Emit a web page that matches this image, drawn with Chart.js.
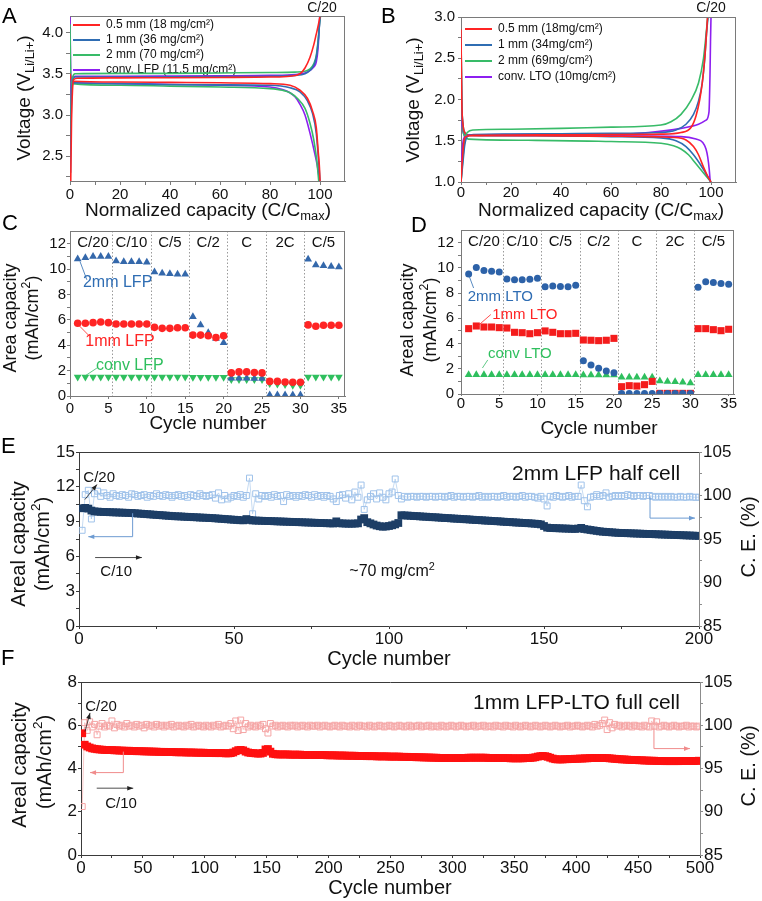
<!DOCTYPE html>
<html>
<head>
<meta charset="utf-8">
<script src="https://cdn.jsdelivr.net/npm/chart.js@4.4.1/dist/chart.umd.min.js"></script>
<style>
  body { margin: 0; background: #fff; width: 762px; height: 901px; position: relative; overflow: hidden; font-family: 'Liberation Sans', Arial, sans-serif; }
  canvas { position: absolute; }
  .letter { position: absolute; font-size: 22px; line-height: 22px; color: #000; }
</style>
</head>
<body>
<canvas id="cE" style="left:0;top:440px" width="762" height="230"></canvas>
<canvas id="cF" style="left:0;top:670px" width="762" height="231"></canvas>
<canvas id="cC" style="left:0;top:225px" width="381" height="225"></canvas>
<canvas id="cD" style="left:381px;top:225px" width="381" height="225"></canvas>
<canvas id="cA" style="left:0;top:0" width="381" height="230"></canvas>
<canvas id="cB" style="left:381px;top:0" width="381" height="230"></canvas>
<div class="letter" style="left:2px;top:5px">A</div>
<div class="letter" style="left:381px;top:5px">B</div>
<div class="letter" style="left:2px;top:212px">C</div>
<div class="letter" style="left:411px;top:214px">D</div>
<div class="letter" style="left:1px;top:435px">E</div>
<div class="letter" style="left:1px;top:647px">F</div>
<script>
// ---------- Panel A: LFP voltage profiles (normalized capacity %, voltage V) ----------
const lfp05ChgX = [0.3, 0.6, 1.0, 1.5, 3, 20, 40, 60, 80, 88, 92, 94, 96, 97.5, 98.5, 99.4, 100];
const lfp05ChgV = [2.2, 2.9, 3.3, 3.43, 3.445, 3.45, 3.452, 3.455, 3.46, 3.47, 3.5, 3.57, 3.7, 3.85, 3.98, 4.1, 4.2];
const lfp1ChgX = [0.2, 0.5, 1.0, 2, 20, 40, 60, 80, 90, 94, 96, 97.5, 98.5, 99.3, 99.8, 100.1];
const lfp1ChgV = [2.3, 3.0, 3.38, 3.46, 3.46, 3.462, 3.465, 3.47, 3.48, 3.5, 3.54, 3.6, 3.7, 3.9, 4.1, 4.2];
const lfp2ChgX = [0, 0.4, 1.0, 2, 20, 40, 60, 80, 90, 94, 96, 97.5, 98.5, 99.3, 99.8, 100.2];
const lfp2ChgV = [2.3, 3.1, 3.45, 3.5, 3.505, 3.505, 3.51, 3.515, 3.52, 3.53, 3.56, 3.62, 3.72, 3.92, 4.1, 4.2];
const lfpCvChgX = [0, 0.3, 0.8, 2, 20, 40, 60, 80, 90, 94, 96, 97.5, 98.5, 99.2, 99.6, 99.9];
const lfpCvChgV = [2.4, 3.2, 3.44, 3.47, 3.47, 3.472, 3.475, 3.48, 3.49, 3.51, 3.54, 3.58, 3.64, 3.8, 4.0, 4.2];
const lfp05DisX = [0, 0.5, 1, 20, 40, 60, 80, 88, 92, 95, 97, 98.5, 99.3, 99.8, 100];
const lfp05DisV = [3.5, 3.42, 3.41, 3.40, 3.395, 3.39, 3.38, 3.36, 3.3, 3.2, 3.05, 2.85, 2.55, 2.35, 2.2];
const lfp1DisX = [0, 0.5, 1, 20, 40, 60, 80, 88, 92, 95, 97, 98.5, 99.5, 100];
const lfp1DisV = [3.48, 3.41, 3.39, 3.38, 3.37, 3.365, 3.36, 3.33, 3.28, 3.17, 3.02, 2.78, 2.42, 2.2];
const lfp2DisX = [0, 0.3, 1, 20, 40, 60, 80, 85, 88, 91, 94, 96, 97.5, 98.7, 99.5];
const lfp2DisV = [4.1, 3.45, 3.38, 3.36, 3.35, 3.34, 3.32, 3.3, 3.27, 3.2, 3.08, 2.9, 2.7, 2.45, 2.2];
const lfpCvDisX = [0, 0.3, 1, 2, 20, 40, 60, 80, 85, 88, 90, 92, 94, 96, 98, 99.3, 99.8];
const lfpCvDisV = [4.2, 3.5, 3.42, 3.39, 3.38, 3.37, 3.36, 3.34, 3.31, 3.27, 3.22, 3.13, 3.0, 2.78, 2.52, 2.32, 2.2];

// ---------- Panel B: LTO voltage profiles ----------
const lto05UpX = [0, 0.6, 1.2, 2, 5, 20, 40, 60, 80, 88, 92, 94, 95.5, 96.5, 97.5, 98.2, 98.6];
const lto05UpV = [1.0, 1.3, 1.5, 1.55, 1.565, 1.57, 1.572, 1.575, 1.58, 1.6, 1.66, 1.8, 2.0, 2.2, 2.5, 2.8, 3.0];
const lto1UpX = [0, 0.8, 1.5, 2.5, 5, 20, 40, 60, 80, 86, 90, 93, 95, 96.5, 97.5, 98.2, 98.8];
const lto1UpV = [1.0, 1.25, 1.45, 1.55, 1.575, 1.58, 1.585, 1.59, 1.6, 1.63, 1.7, 1.82, 1.98, 2.2, 2.5, 2.8, 3.0];
const lto2UpX = [0, 0.8, 1.5, 2.5, 5, 20, 40, 60, 80, 84, 88, 92, 95, 97, 98, 98.7];
const lto2UpV = [1.0, 1.3, 1.5, 1.6, 1.63, 1.64, 1.65, 1.665, 1.69, 1.73, 1.82, 1.99, 2.2, 2.5, 2.78, 3.0];
const ltoCvUpX = [0, 0.4, 1, 2, 5, 20, 40, 60, 75, 88, 95, 98, 99.2, 99.6, 99.8, 100];
const ltoCvUpV = [1.0, 1.35, 1.52, 1.56, 1.57, 1.575, 1.578, 1.58, 1.6, 1.65, 1.7, 1.75, 1.85, 2.3, 2.7, 3.0];
const lto05DnX = [0, 0.3, 0.8, 1.5, 3, 30, 60, 85, 90, 93, 95, 97, 98.5, 100];
const lto05DnV = [2.85, 2.0, 1.7, 1.6, 1.565, 1.56, 1.555, 1.54, 1.51, 1.43, 1.33, 1.18, 1.08, 1.0];
const lto1DnX = [0, 0.3, 0.8, 1.5, 3, 30, 60, 80, 86, 90, 93, 96, 98, 100];
const lto1DnV = [2.8, 2.0, 1.7, 1.6, 1.565, 1.56, 1.55, 1.535, 1.5, 1.43, 1.33, 1.2, 1.1, 1.0];
const lto2DnX = [0, 0.3, 0.8, 1.5, 3, 30, 60, 80, 85, 88, 91, 94, 97, 100];
const lto2DnV = [2.75, 2.0, 1.65, 1.55, 1.52, 1.505, 1.49, 1.47, 1.44, 1.4, 1.33, 1.22, 1.11, 1.0];
const ltoCvDnX = [0, 0.2, 0.6, 1.2, 3, 30, 60, 88, 94, 96.7, 98, 98.7, 99.3, 99.7];
const ltoCvDnV = [2.6, 1.9, 1.65, 1.58, 1.57, 1.565, 1.56, 1.55, 1.52, 1.48, 1.4, 1.3, 1.15, 1.0];

// ---------- Panels C/D: rate capability, cycles 1-35 ----------
const rateNames = ['C/20', 'C/10', 'C/5', 'C/2', 'C', '2C', 'C/5'];
const rateCenters = [3, 8, 13, 18, 23, 28, 33];
const rateBreaks = [5.5, 10.5, 15.5, 20.5, 25.5, 30.5];
const lfp2mmCap = [10.8, 10.9, 11.0, 11.0, 11.0, 10.63, 10.58, 10.58, 10.58, 10.53, 9.76, 9.68, 9.63, 9.6, 9.6,
  6.25, 5.59, 4.99, 4.54, 4.2, 1.4, 1.4, 1.4, 1.38, 1.38, 0.08, 0.08, 0.08, 0.08, 0.08, 10.77, 10.32, 10.26, 10.2, 10.16];
const lfp1mmCap = [5.73, 5.73, 5.78, 5.83, 5.78, 5.67, 5.67, 5.67, 5.67, 5.67, 5.41, 5.33, 5.33, 5.38, 5.38,
  4.8, 4.8, 4.75, 4.6, 4.75, 1.82, 1.9, 1.9, 1.85, 1.82, 1.15, 1.15, 1.1, 1.08, 1.08, 5.6, 5.5, 5.57, 5.57, 5.57];
const lfpConvCap = [1.5, 1.5, 1.5, 1.5, 1.5, 1.5, 1.5, 1.5, 1.5, 1.5, 1.5, 1.5, 1.5, 1.5, 1.5,
  1.48, 1.48, 1.48, 1.48, 1.48, 1.3, 1.3, 1.3, 1.3, 1.3, 0.98, 0.95, 0.9, 0.85, 0.85, 1.5, 1.5, 1.5, 1.5, 1.5];
const lto2mmCap = [9.52, 10.02, 9.78, 9.73, 9.67, 9.12, 9.05, 9.05, 9.1, 9.17, 8.51, 8.56, 8.53, 8.51, 8.62,
  2.64, 2.3, 2.04, 1.82, 1.69, 0.03, 0.03, 0.03, 0.03, 0.03, 0.03, 0.03, 0.03, 0.03, 0.03, 8.46, 8.9, 8.83, 8.75, 8.7];
const lto1mmCap = [5.18, 5.39, 5.31, 5.31, 5.26, 5.23, 4.89, 4.86, 4.78, 4.86, 5.0, 4.89, 4.78, 4.78, 4.81,
  4.28, 4.26, 4.23, 4.26, 4.41, 0.58, 0.66, 0.63, 0.74, 1.0, 0.05, 0.05, 0.05, 0.05, 0.05, 5.18, 5.18, 5.1, 5.02, 5.13];
const ltoConvCap = [1.53, 1.53, 1.53, 1.53, 1.53, 1.53, 1.53, 1.53, 1.53, 1.53, 1.53, 1.53, 1.53, 1.53, 1.53,
  1.5, 1.5, 1.5, 1.5, 1.5, 1.32, 1.32, 1.32, 1.32, 1.32, 1.03, 1.0, 0.98, 0.93, 0.87, 1.53, 1.53, 1.53, 1.53, 1.53];

// ---------- Panel E: 2mm LFP half cell, cycles 1-200 ----------
const eCap = [
  10.15, 10.18, 10.12, 9.95, 9.88, 9.86, 9.84, 9.83, 9.82, 9.81,
  9.80, 9.79, 9.78, 9.77, 9.76, 9.75, 9.74, 9.72, 9.70, 9.68,
  9.66, 9.64, 9.62, 9.60, 9.58, 9.56, 9.54, 9.52, 9.50, 9.48,
  9.46, 9.45, 9.44, 9.42, 9.41, 9.40, 9.38, 9.37, 9.35, 9.34,
  9.33, 9.31, 9.30, 9.28, 9.26, 9.24, 9.22, 9.20, 9.18, 9.16,
  9.14, 9.12, 9.11, 9.22, 9.14, 9.10, 9.09, 9.08, 9.07, 9.06,
  9.05, 9.04, 9.03, 9.02, 9.01, 9.00, 8.99, 8.98, 8.97, 8.96,
  8.95, 8.94, 8.93, 8.92, 8.91, 8.90, 8.89, 8.88, 8.87, 8.86,
  8.85, 8.84, 9.02, 8.86, 8.84, 8.83, 8.82, 8.82, 8.83, 8.85,
  9.18, 9.30, 8.95, 8.85, 8.75, 8.66, 8.60, 8.56, 8.58, 8.62,
  8.68, 8.76, 8.88, 9.55, 9.53, 9.52, 9.50, 9.48, 9.47, 9.45,
  9.43, 9.42, 9.40, 9.38, 9.37, 9.35, 9.33, 9.31, 9.30, 9.28,
  9.26, 9.25, 9.23, 9.21, 9.20, 9.18, 9.16, 9.14, 9.13, 9.11,
  9.09, 9.08, 9.06, 9.04, 9.03, 9.01, 8.99, 8.97, 8.96, 8.94,
  8.92, 8.91, 8.89, 8.87, 8.86, 8.84, 8.82, 8.80, 8.76, 8.62,
  8.48, 8.45, 8.44, 8.43, 8.42, 8.41, 8.40, 8.39, 8.38, 8.37,
  8.40, 8.46, 8.36, 8.32, 8.28, 8.24, 8.20, 8.16, 8.13, 8.11,
  8.09, 8.07, 8.05, 8.03, 8.02, 8.01, 8.00, 7.99, 7.98, 7.97,
  7.96, 7.95, 7.94, 7.93, 7.92, 7.91, 7.90, 7.89, 7.88, 7.87,
  7.86, 7.85, 7.84, 7.83, 7.82, 7.81, 7.80, 7.79, 7.78, 7.77
];
const eCE = [
  96.0, 100.1, 100.6, 97.3, 100.2, 100.5, 99.9, 100.3, 100.0, 99.8,
  100.2, 100.0, 99.9, 100.1, 100.0, 99.8, 100.2, 100.1, 99.9, 100.0,
  100.1, 99.8, 100.0, 99.9, 100.2, 100.0, 99.9, 100.1, 100.0, 99.8,
  100.0, 100.1, 99.9, 100.0, 99.8, 100.1, 100.0, 99.9, 100.2, 100.0,
  99.9, 100.0, 100.1, 99.7, 100.3, 99.5, 100.0, 99.6, 99.8, 100.0,
  99.9, 100.1, 99.8, 100.0, 102.0, 97.9, 100.2, 99.6, 100.0, 99.9,
  100.0, 99.8, 100.1, 99.9, 100.0, 99.3, 100.1, 99.9, 100.0, 99.8,
  100.0, 99.9, 100.1, 100.0, 99.8, 100.1, 99.9, 100.0, 99.8, 100.0,
  99.9, 99.6, 99.3, 100.0, 100.1, 99.7, 100.2, 99.5, 100.4, 99.8,
  101.2, 98.4, 99.5, 99.9, 100.2, 99.6, 100.3, 99.8, 99.5, 100.2,
  100.4, 101.9, 100.0, 99.6, 99.9, 99.8, 99.9, 99.9, 99.8, 99.9,
  99.9, 99.8, 99.9, 99.9, 99.8, 99.9, 99.9, 99.8, 99.9, 100.0,
  99.8, 99.9, 99.9, 99.8, 99.9, 99.9, 99.8, 99.9, 100.0, 99.8,
  99.9, 99.8, 99.9, 99.9, 99.8, 99.9, 100.0, 99.8, 99.9, 99.9,
  99.8, 99.9, 100.0, 99.8, 99.9, 99.9, 99.8, 99.7, 99.9, 99.6,
  98.8, 99.9, 99.8, 100.0, 99.9, 99.8, 99.9, 100.0, 99.8, 99.9,
  99.9, 101.2, 99.4, 98.7, 99.8, 99.9, 100.1, 99.9, 100.0, 100.3,
  99.8, 99.9, 100.0, 99.9, 100.0, 99.9, 100.1, 100.0, 99.9, 100.0,
  100.0, 99.9, 100.0, 100.0, 99.9, 99.8, 99.9, 99.8, 99.9, 99.8,
  99.9, 99.8, 99.8, 99.9, 99.8, 99.8, 99.9, 99.8, 99.8, 99.8
];

// ---------- Panel F: 1mm LFP-LTO full cell, every 2nd cycle from 1 to 499 ----------
const F_CYCLE_STEP = 2;
const fCap = [
  5.63, 5.10, 5.02, 4.97, 4.93, 4.91, 4.89, 4.88, 4.87, 4.86,
  4.86, 4.85, 4.85, 4.84, 4.84, 4.83, 4.83, 4.82, 4.82, 4.82,
  4.81, 4.81, 4.80, 4.80, 4.80, 4.79, 4.79, 4.79, 4.78, 4.78,
  4.78, 4.77, 4.77, 4.77, 4.76, 4.76, 4.76, 4.76, 4.75, 4.75,
  4.75, 4.75, 4.74, 4.74, 4.74, 4.74, 4.73, 4.73, 4.73, 4.73,
  4.72, 4.72, 4.72, 4.72, 4.71, 4.71, 4.71, 4.71, 4.70, 4.70,
  4.71, 4.74, 4.80, 4.85, 4.86, 4.84, 4.78, 4.74, 4.72, 4.71,
  4.70, 4.69, 4.69, 4.72, 4.88, 4.90, 4.78, 4.68, 4.66, 4.65,
  4.65, 4.65, 4.65, 4.65, 4.64, 4.64, 4.64, 4.64, 4.64, 4.63,
  4.63, 4.63, 4.63, 4.63, 4.62, 4.62, 4.62, 4.62, 4.62, 4.61,
  4.61, 4.61, 4.61, 4.60, 4.60, 4.60, 4.60, 4.59, 4.59, 4.59,
  4.59, 4.58, 4.58, 4.58, 4.58, 4.57, 4.57, 4.57, 4.57, 4.56,
  4.56, 4.56, 4.56, 4.56, 4.55, 4.55, 4.55, 4.55, 4.55, 4.54,
  4.54, 4.54, 4.53, 4.53, 4.53, 4.52, 4.52, 4.52, 4.51, 4.51,
  4.51, 4.50, 4.50, 4.50, 4.49, 4.49, 4.49, 4.49, 4.48, 4.48,
  4.48, 4.48, 4.49, 4.49, 4.49, 4.49, 4.50, 4.50, 4.50, 4.50,
  4.50, 4.50, 4.50, 4.50, 4.49, 4.49, 4.49, 4.49, 4.48, 4.48,
  4.48, 4.48, 4.48, 4.47, 4.47, 4.47, 4.47, 4.47, 4.47, 4.48,
  4.48, 4.49, 4.50, 4.52, 4.55, 4.57, 4.58, 4.57, 4.54, 4.50,
  4.46, 4.43, 4.42, 4.42, 4.42, 4.43, 4.43, 4.44, 4.44, 4.45,
  4.45, 4.46, 4.46, 4.47, 4.47, 4.48, 4.48, 4.49, 4.49, 4.49,
  4.49, 4.48, 4.48, 4.47, 4.46, 4.45, 4.44, 4.43, 4.42, 4.42,
  4.41, 4.40, 4.40, 4.39, 4.39, 4.38, 4.38, 4.37, 4.37, 4.36,
  4.36, 4.36, 4.35, 4.35, 4.35, 4.34, 4.34, 4.34, 4.34, 4.34,
  4.34, 4.34, 4.35, 4.35, 4.35, 4.35, 4.35, 4.35, 4.35, 4.36
];
const fCE = [
  90.6, 100.3, 99.4, 100.4, 99.8, 100.1, 98.9, 99.9, 100.2, 99.8,
  100.0, 99.9, 100.5, 99.7, 100.1, 99.9, 100.0, 99.8, 100.2, 99.9,
  100.0, 99.8, 100.1, 99.9, 100.0, 99.7, 100.1, 99.9, 100.0, 99.8,
  100.1, 99.9, 100.0, 99.8, 100.0, 99.9, 100.1, 99.8, 99.9, 100.0,
  99.9, 99.8, 100.0, 99.9, 100.1, 99.8, 99.9, 100.0, 99.9, 99.8,
  100.0, 99.9, 99.8, 100.0, 99.9, 100.1, 99.8, 99.9, 100.0, 99.9,
  100.2, 99.6, 100.5, 99.4, 100.6, 99.5, 100.2, 99.8, 100.0, 99.9,
  99.8, 100.0, 99.9, 100.1, 99.6, 99.1, 100.2, 99.9, 100.0, 99.8,
  99.9, 100.0, 99.9, 99.8, 100.0, 99.9, 100.0, 99.8, 99.9, 100.0,
  99.9, 99.8, 100.0, 99.9, 99.9, 100.0, 99.8, 99.9, 100.0, 99.9,
  99.8, 99.9, 100.0, 99.9, 99.8, 100.0, 99.9, 99.9, 99.8, 100.0,
  99.9, 99.8, 100.0, 99.9, 99.9, 99.8, 100.0, 99.9, 99.8, 99.9,
  100.0, 99.9, 99.8, 99.9, 100.0, 99.9, 99.8, 99.9, 100.0, 99.9,
  99.8, 99.9, 100.0, 99.8, 99.9, 99.9, 100.0, 99.8, 99.9, 99.9,
  100.0, 99.8, 99.9, 99.9, 99.8, 100.0, 99.9, 99.8, 99.9, 100.0,
  99.9, 99.8, 99.9, 100.0, 99.9, 99.8, 99.9, 99.9, 100.0, 99.8,
  99.9, 99.9, 100.0, 99.8, 99.9, 99.9, 99.8, 100.0, 99.9, 99.9,
  99.8, 100.0, 99.9, 99.9, 99.8, 100.0, 99.9, 99.8, 99.9, 100.0,
  99.9, 99.8, 99.9, 100.0, 99.9, 99.8, 99.9, 100.0, 99.9, 99.8,
  99.9, 100.0, 99.9, 99.8, 99.9, 99.9, 100.0, 99.8, 99.9, 99.9,
  100.0, 99.9, 99.8, 99.9, 100.0, 99.9, 99.8, 100.1, 99.9, 100.0,
  100.2, 100.6, 99.5, 100.3, 99.7, 100.1, 99.9, 100.0, 99.8, 99.9,
  100.0, 99.9, 99.8, 100.0, 99.9, 99.9, 99.8, 100.0, 99.9, 99.8,
  100.5, 99.9, 100.4, 99.8, 99.9, 100.0, 99.9, 99.8, 99.9, 100.0,
  99.9, 99.8, 99.9, 99.9, 100.0, 99.8, 99.9, 99.9, 99.8, 99.9
];

// ---------- styling ----------
const FONT = "'Liberation Sans', Arial, Helvetica, sans-serif";
const RED = '#ff2424', BLUE = '#2f6db3', GREEN = '#38bb68', PURPLE = '#8d1ff0';
const FRAME = '#7a7a7a', DARK = '#3a3a3a', GREYAX = '#8c8c8c';
const NAVY = '#1d3e66', CE_BLUE = '#9fc2ea', BRACKET_BLUE = '#6d9bd2';
const FRED = '#ff1010', CE_PINK = '#f5a5a5', BRACKET_PINK = '#f08c8c';

Chart.defaults.font.family = FONT;
Chart.defaults.color = '#111';

function parseRich(s) {
  const out = [];
  const re = /([_^])\{([^}]*)\}/g;
  let last = 0, m;
  while ((m = re.exec(s))) {
    if (m.index > last) out.push({ t: s.slice(last, m.index) });
    out.push({ t: m[2], sub: m[1] === '_', sup: m[1] === '^' });
    last = re.lastIndex;
  }
  if (last < s.length) out.push({ t: s.slice(last) });
  return out;
}

function drawRich(ctx, text, x, y, size, rot, align, color) {
  const parts = parseRich(text);
  ctx.save();
  ctx.translate(x, y);
  if (rot) ctx.rotate(rot);
  ctx.fillStyle = color;
  ctx.textBaseline = 'middle';
  ctx.textAlign = 'left';
  const fontOf = p => ((p.sub || p.sup) ? size * 0.68 : size) + 'px ' + FONT;
  let w = 0;
  parts.forEach(p => { ctx.font = fontOf(p); p.w = ctx.measureText(p.t).width; w += p.w; });
  let cx = align === 'left' ? 0 : align === 'right' ? -w : -w / 2;
  parts.forEach(p => {
    ctx.font = fontOf(p);
    const dy = p.sub ? size * 0.3 : p.sup ? -size * 0.33 : 0;
    ctx.fillText(p.t, cx, dy);
    cx += p.w;
  });
  ctx.restore();
}

// frame, separators, annotation paths and texts
const decor = {
  id: 'decor',
  beforeDatasetsDraw(chart, args, o) {
    if (!o.breaks) return;
    const { ctx, chartArea: a } = chart;
    const xs = chart.scales.x;
    ctx.save();
    ctx.strokeStyle = '#9a9a9a';
    ctx.lineWidth = 1;
    ctx.setLineDash([1.5, 2]);
    o.breaks.forEach(v => {
      const px = Math.round(xs.getPixelForValue(v)) + 0.5;
      ctx.beginPath(); ctx.moveTo(px, a.top); ctx.lineTo(px, a.bottom); ctx.stroke();
    });
    ctx.restore();
  },
  afterDraw(chart, args, o) {
    const { ctx, chartArea: a } = chart;
    ctx.save();
    if (o.frame) {
      ctx.strokeStyle = o.frame;
      ctx.lineWidth = 1;
      ctx.beginPath();
      ctx.moveTo(a.left, Math.round(a.top) + 0.5); ctx.lineTo(a.right, Math.round(a.top) + 0.5);
      if (o.frameRight) { ctx.moveTo(Math.round(a.right) - 0.5, a.top); ctx.lineTo(Math.round(a.right) - 0.5, a.bottom); }
      ctx.stroke();
    }
    (o.paths || []).forEach(p => {
      const sx = chart.scales[p.xAxis || 'x'], sy = chart.scales[p.yAxis || 'y'];
      const pts = p.pts.map(([x, y]) => [sx.getPixelForValue(x), sy.getPixelForValue(y)]);
      ctx.strokeStyle = p.color; ctx.fillStyle = p.color;
      ctx.lineWidth = p.width || 1;
      ctx.beginPath();
      pts.forEach(([x, y], i) => i ? ctx.lineTo(x, y) : ctx.moveTo(x, y));
      ctx.stroke();
      if (p.arrow) {
        const [x1, y1] = pts[pts.length - 2], [x2, y2] = pts[pts.length - 1];
        const ang = Math.atan2(y2 - y1, x2 - x1), L = 6, W = 2.3;
        ctx.beginPath();
        ctx.moveTo(x2, y2);
        ctx.lineTo(x2 - L * Math.cos(ang) + W * Math.sin(ang), y2 - L * Math.sin(ang) - W * Math.cos(ang));
        ctx.lineTo(x2 - L * Math.cos(ang) - W * Math.sin(ang), y2 - L * Math.sin(ang) + W * Math.cos(ang));
        ctx.closePath(); ctx.fill();
      }
    });
    (o.texts || []).forEach(t => {
      let x = t.x, y = t.y;
      if (t.data) {
        x = chart.scales[t.xAxis || 'x'].getPixelForValue(t.x);
        y = chart.scales[t.yAxis || 'y'].getPixelForValue(t.y);
      }
      drawRich(ctx, t.text, x, y, t.size, t.rot || 0, t.align || 'center', t.color || '#111');
    });
    ctx.restore();
  }
};

function scaleCfg(c) {
  return {
    type: 'linear', position: c.position, min: c.min, max: c.max,
    afterBuildTicks: s => { s.ticks = c.majors.concat(c.minors || []).sort((p, q) => p - q).map(v => ({ value: v })); },
    afterFit: s => {
      if (c.horizontal) s.height = c.size; else s.width = c.size;
      s.paddingLeft = 0; s.paddingRight = 0; s.paddingTop = 0; s.paddingBottom = 0;
    },
    ticks: {
      autoSkip: false, maxRotation: 0, padding: c.pad, color: '#111',
      font: { size: c.fontSize, family: FONT },
      callback: v => c.majors.includes(v) ? c.fmt(v) : ''
    },
    grid: { drawOnChartArea: false, drawTicks: true, tickLength: c.tickLen, tickColor: c.color, tickWidth: 1 },
    border: { color: c.color, width: 1 }
  };
}

function curve(label, xs, ys, color) {
  return {
    label, data: xs.map((x, i) => ({ x, y: ys[i] })),
    borderColor: color, backgroundColor: color, borderWidth: 1.6,
    pointRadius: 0, showLine: true, fill: false, cubicInterpolationMode: 'monotone'
  };
}

function marks(label, ys, color, style, radius, rotation) {
  return {
    label, data: ys.map((y, i) => ({ x: i + 1, y })),
    pointStyle: style, pointRadius: radius, pointRotation: rotation || 0,
    pointBackgroundColor: color, pointBorderColor: color, pointBorderWidth: 0,
    backgroundColor: color, borderColor: color, showLine: false
  };
}

// legend inside the plot; the empty title pushes it down to the chart area top
function legendCfg(pad, offset) {
  return {
    position: 'chartArea', align: 'start',
    title: { display: true, text: ' ', font: { size: 10, lineHeight: 1.2 }, padding: { top: offset - 12, bottom: 0 } },
    labels: {
      boxWidth: 27, boxHeight: 2, padding: pad, color: '#111',
      font: { size: 12, family: FONT },
      filter: item => item.text !== '',
      generateLabels: chart => Chart.defaults.plugins.legend.labels.generateLabels(chart).map(l => Object.assign(l, { lineWidth: 0 }))
    }
  };
}

const base = { responsive: false, animation: false, events: [] };

// ---------- A ----------
new Chart(document.getElementById('cA'), {
  type: 'scatter',
  data: { datasets: [
    curve('0.5 mm (18 mg/cm²)', lfp05ChgX, lfp05ChgV, RED),
    curve('1 mm (36 mg/cm²)', lfp1ChgX, lfp1ChgV, BLUE),
    curve('2 mm (70 mg/cm²)', lfp2ChgX, lfp2ChgV, GREEN),
    curve('conv. LFP (11.5 mg/cm²)', lfpCvChgX, lfpCvChgV, PURPLE),
    curve('', lfp05DisX, lfp05DisV, RED),
    curve('', lfp1DisX, lfp1DisV, BLUE),
    curve('', lfp2DisX, lfp2DisV, GREEN),
    curve('', lfpCvDisX, lfpCvDisV, PURPLE)
  ] },
  options: Object.assign({}, base, {
    layout: { padding: { top: 16, right: 36, left: 0, bottom: 0 } },
    scales: {
      x: scaleCfg({ position: 'bottom', horizontal: true, size: 49, min: 0, max: 110, majors: [0, 20, 40, 60, 80, 100], minors: [10, 30, 50, 70, 90],
        fmt: v => String(v), tickLen: 4, pad: 1, color: FRAME, fontSize: 15 }),
      y: scaleCfg({ position: 'left', size: 70, min: 2.2, max: 4.2, majors: [2.5, 3.0, 3.5, 4.0], minors: [2.25, 2.75, 3.25, 3.75],
        fmt: v => v.toFixed(1), tickLen: 4, pad: 3, color: FRAME, fontSize: 15 })
    },
    plugins: {
      legend: legendCfg(3, 16), tooltip: { enabled: false },
      decor: { frame: FRAME, frameRight: true, texts: [
        { text: 'Voltage (V_{Li/Li+})', x: 25, y: 98, size: 19, rot: -Math.PI / 2 },
        { text: 'Normalized capacity (C/C_{max})', x: 208, y: 211, size: 19 },
        { text: 'C/20', x: 322, y: 8, size: 14 }
      ] }
    }
  }),
  plugins: [decor]
});

// ---------- B ----------
new Chart(document.getElementById('cB'), {
  type: 'scatter',
  data: { datasets: [
    curve('0.5 mm (18mg/cm²)', lto05UpX, lto05UpV, RED),
    curve('1 mm (34mg/cm²)', lto1UpX, lto1UpV, BLUE),
    curve('2 mm (69mg/cm²)', lto2UpX, lto2UpV, GREEN),
    curve('conv. LTO (10mg/cm²)', ltoCvUpX, ltoCvUpV, PURPLE),
    curve('', lto05DnX, lto05DnV, RED),
    curve('', lto1DnX, lto1DnV, BLUE),
    curve('', lto2DnX, lto2DnV, GREEN),
    curve('', ltoCvDnX, ltoCvDnV, PURPLE)
  ] },
  options: Object.assign({}, base, {
    layout: { padding: { top: 17, right: 26, left: 0, bottom: 0 } },
    scales: {
      x: scaleCfg({ position: 'bottom', horizontal: true, size: 48, min: 0, max: 110, majors: [0, 20, 40, 60, 80, 100], minors: [10, 30, 50, 70, 90],
        fmt: v => String(v), tickLen: 3, pad: -1, color: FRAME, fontSize: 15 }),
      y: scaleCfg({ position: 'left', size: 80, min: 1.0, max: 3.0, majors: [1.0, 1.5, 2.0, 2.5, 3.0], minors: [1.25, 1.75, 2.25, 2.75],
        fmt: v => v.toFixed(1), tickLen: 3, pad: 3, color: FRAME, fontSize: 15 })
    },
    plugins: {
      legend: legendCfg(4, 19), tooltip: { enabled: false },
      decor: { frame: FRAME, frameRight: true, texts: [
        { text: 'Voltage (V_{Li/Li+})', x: 33, y: 100, size: 19, rot: -Math.PI / 2 },
        { text: 'Normalized capacity (C/C_{max})', x: 220, y: 211, size: 19 },
        { text: 'C/20', x: 330, y: 8, size: 14 }
      ] }
    }
  }),
  plugins: [decor]
});

function rateTexts() {
  return rateNames.map((n, i) => ({ text: n, data: true, x: rateCenters[i], y: 12.05, size: 15 }));
}

// ---------- C ----------
new Chart(document.getElementById('cC'), {
  type: 'scatter',
  data: { datasets: [
    marks('1mm LFP', lfp1mmCap, RED, 'circle', 3.8),
    marks('2mm LFP', lfp2mmCap, '#3468ab', 'triangle', 4.5),
    marks('conv LFP', lfpConvCap, '#2fbf5e', 'triangle', 4.5, 180)
  ] },
  options: Object.assign({}, base, {
    layout: { padding: { top: 6, right: 36, left: 0, bottom: 0 } },
    scales: {
      x: scaleCfg({ position: 'bottom', horizontal: true, size: 54, min: 0, max: 35.8, majors: [0, 5, 10, 15, 20, 25, 30, 35], minors: [],
        fmt: v => String(v), tickLen: 3, pad: 1, color: FRAME, fontSize: 15 }),
      y: scaleCfg({ position: 'left', size: 70, min: 0, max: 13, majors: [0, 2, 4, 6, 8, 10, 12], minors: [1, 3, 5, 7, 9, 11],
        fmt: v => String(v), tickLen: 3, pad: 1, color: FRAME, fontSize: 15 })
    },
    plugins: {
      legend: { display: false }, tooltip: { enabled: false },
      decor: {
        frame: FRAME, frameRight: true, breaks: rateBreaks,
        paths: [
          { pts: [[2.2, 9.15], [1.3, 10.6]], color: BLUE, width: 0.8 },
          { pts: [[2.4, 4.8], [1.1, 5.6]], color: RED, width: 0.8 },
          { pts: [[3.5, 2.2], [2.0, 1.6]], color: GREEN, width: 0.8 }
        ],
        texts: rateTexts().concat([
          { text: '2mm LFP', data: true, x: 6.2, y: 8.9, size: 16, color: BLUE },
          { text: '1mm LFP', data: true, x: 6.5, y: 4.25, size: 16, color: RED },
          { text: 'conv LFP', data: true, x: 7.8, y: 2.37, size: 16, color: '#2fbf5e' },
          { text: 'Area capacity', x: 11, y: 93, size: 18, rot: -Math.PI / 2 },
          { text: '(mAh/cm^{2})', x: 33, y: 93, size: 18, rot: -Math.PI / 2 },
          { text: 'Cycle number', x: 208, y: 199, size: 19 }
        ])
      }
    }
  }),
  plugins: [decor]
});

// ---------- D ----------
new Chart(document.getElementById('cD'), {
  type: 'scatter',
  data: { datasets: [
    marks('2mm LTO', lto2mmCap, '#2d62a8', 'circle', 3.5),
    marks('1mm LTO', lto1mmCap, '#f41c1c', 'rect', 5),
    marks('conv LTO', ltoConvCap, '#2fbf5e', 'triangle', 4.5)
  ] },
  options: Object.assign({}, base, {
    layout: { padding: { top: 5, right: 28, left: 0, bottom: 0 } },
    scales: {
      x: scaleCfg({ position: 'bottom', horizontal: true, size: 56, min: 0, max: 35.7, majors: [0, 5, 10, 15, 20, 25, 30, 35], minors: [],
        fmt: v => String(v), tickLen: 2, pad: -1, color: FRAME, fontSize: 15 }),
      y: scaleCfg({ position: 'left', size: 80, min: 0, max: 13, majors: [0, 2, 4, 6, 8, 10, 12], minors: [1, 3, 5, 7, 9, 11],
        fmt: v => String(v), tickLen: 3, pad: 4, color: FRAME, fontSize: 15 })
    },
    plugins: {
      legend: { display: false }, tooltip: { enabled: false },
      decor: {
        frame: FRAME, frameRight: true, breaks: rateBreaks,
        paths: [
          { pts: [[1.65, 8.4], [1.05, 9.37]], color: BLUE, width: 0.8 },
          { pts: [[3.9, 6.3], [2.2, 5.4]], color: RED, width: 0.8 },
          { pts: [[3.5, 2.7], [2.8, 2.06]], color: GREEN, width: 0.8 }
        ],
        texts: rateTexts().concat([
          { text: '2mm LTO', data: true, x: 5.15, y: 7.7, size: 15, color: BLUE },
          { text: '1mm LTO', data: true, x: 8.35, y: 6.27, size: 15, color: RED },
          { text: 'conv LTO', data: true, x: 7.7, y: 3.17, size: 15, color: '#2fbf5e' },
          { text: 'Areal capacity', x: 27, y: 95, size: 18, rot: -Math.PI / 2 },
          { text: '(mAh/cm^{2})', x: 50, y: 95, size: 18, rot: -Math.PI / 2 },
          { text: 'Cycle number', x: 218, y: 204, size: 19 }
        ])
      }
    }
  }),
  plugins: [decor]
});

function cycling(id, capVals, ceVals, step, cfg) {
  const capData = capVals.map((y, i) => ({ x: 1 + i * step, y }));
  const ceData = ceVals.map((y, i) => ({ x: 1 + i * step, y }));
  new Chart(document.getElementById(id), {
    type: 'scatter',
    data: { datasets: [
      { label: 'Areal capacity', data: capData, yAxisID: 'y', pointStyle: 'rect', pointRadius: 5.5,
        pointBackgroundColor: cfg.capColor, pointBorderColor: cfg.capColor, pointBorderWidth: 0, showLine: false },
      { label: 'C. E.', data: ceData, yAxisID: 'y2', pointStyle: 'rect', pointRadius: 4.2,
        pointBackgroundColor: 'rgba(255,255,255,0)', pointBorderColor: cfg.ceColor, pointBorderWidth: 1,
        showLine: true, borderColor: cfg.ceColor, borderWidth: 0.6 }
    ] },
    options: Object.assign({}, base, {
      layout: { padding: { top: 12, right: 0, left: 0, bottom: 0 } },
      scales: {
        x: scaleCfg({ position: 'bottom', horizontal: true, size: cfg.xSize, min: 0, max: cfg.xMax, majors: cfg.xMajors, minors: cfg.xMinors,
          fmt: v => String(v), tickLen: 3, pad: 0, color: DARK, fontSize: 17 }),
        y: scaleCfg({ position: 'left', size: cfg.ySize, min: 0, max: cfg.yMax, majors: cfg.yMajors, minors: cfg.yMinors,
          fmt: v => String(v), tickLen: 3, pad: 1, color: DARK, fontSize: 17 }),
        y2: scaleCfg({ position: 'right', size: cfg.y2Size, min: 85, max: 105, majors: [85, 90, 95, 100, 105], minors: [87.5, 92.5, 97.5, 102.5],
          fmt: v => String(v), tickLen: 3, pad: 1, color: GREYAX, fontSize: 17 })
      },
      plugins: {
        legend: { display: false }, tooltip: { enabled: false },
        decor: { frame: DARK, frameRight: false, paths: cfg.paths, texts: cfg.texts }
      }
    }),
    plugins: [decor]
  });
}

// ---------- E ----------
cycling('cE', eCap, eCE, 1, {
  capColor: NAVY, ceColor: CE_BLUE, xSize: 44, ySize: 79, y2Size: 63, xMax: 200,
  xMajors: [0, 50, 100, 150, 200], xMinors: [25, 75, 125, 175],
  yMax: 15, yMajors: [0, 3, 6, 9, 12, 15], yMinors: [1.5, 4.5, 7.5, 10.5, 13.5],
  paths: [
    { pts: [[1.9, 10.9], [5.8, 12.2]], color: '#222', width: 0.8, arrow: true },
    { pts: [[5.2, 5.9], [20.3, 5.9]], color: '#222', width: 0.8, arrow: true },
    { pts: [[17.3, 9.72], [17.3, 7.7], [3, 7.7]], color: BRACKET_BLUE, width: 1, arrow: true },
    { pts: [[184.2, 99.9], [184.2, 97.4], [198.7, 97.4]], yAxis: 'y2', color: BRACKET_BLUE, width: 1, arrow: true }
  ],
  texts: [
    { text: 'C/20', data: true, x: 6.5, y: 12.8, size: 15 },
    { text: 'C/10', data: true, x: 12, y: 4.7, size: 15 },
    { text: '~70 mg/cm^{2}', data: true, x: 101, y: 4.65, size: 16 },
    { text: '2mm LFP half cell', data: true, x: 193.9, y: 13.1, size: 21, align: 'right' },
    { text: 'Areal capacity', x: 19, y: 104, size: 20, rot: -Math.PI / 2 },
    { text: '(mAh/cm^{2})', x: 43, y: 104, size: 20, rot: -Math.PI / 2 },
    { text: 'C. E. (%)', x: 749, y: 97, size: 20, rot: -Math.PI / 2 },
    { text: 'Cycle number', x: 389, y: 219, size: 20 }
  ]
});

// ---------- F ----------
cycling('cF', fCap, fCE, F_CYCLE_STEP, {
  capColor: FRED, ceColor: CE_PINK, xSize: 46, ySize: 81, y2Size: 62, xMax: 500,
  xMajors: [0, 50, 100, 150, 200, 250, 300, 350, 400, 450, 500], xMinors: [25, 75, 125, 175, 225, 275, 325, 375, 425, 475],
  yMax: 8, yMajors: [0, 2, 4, 6, 8], yMinors: [1, 3, 5, 7],
  paths: [
    { pts: [[3.2, 5.71], [7.3, 6.57]], color: '#222', width: 0.8, arrow: true },
    { pts: [[12.7, 3.09], [42.2, 3.09]], color: '#222', width: 0.8, arrow: true },
    { pts: [[34.2, 4.78], [34.2, 3.81], [7.3, 3.81]], color: BRACKET_PINK, width: 1, arrow: true },
    { pts: [[462.8, 99.9], [462.8, 97.3], [491.9, 97.3]], yAxis: 'y2', color: BRACKET_PINK, width: 1, arrow: true }
  ],
  texts: [
    { text: 'C/20', data: true, x: 16.2, y: 6.83, size: 15 },
    { text: 'C/10', data: true, x: 32.3, y: 2.36, size: 15 },
    { text: '1mm LFP-LTO full cell', data: true, x: 483.8, y: 7.04, size: 21, align: 'right' },
    { text: 'Areal capacity', x: 20, y: 95, size: 20, rot: -Math.PI / 2 },
    { text: '(mAh/cm^{2})', x: 45, y: 92, size: 20, rot: -Math.PI / 2 },
    { text: 'C. E. (%)', x: 749, y: 96, size: 20, rot: -Math.PI / 2 },
    { text: 'Cycle number', x: 390, y: 218, size: 20 }
  ]
});
</script>
</body>
</html>
